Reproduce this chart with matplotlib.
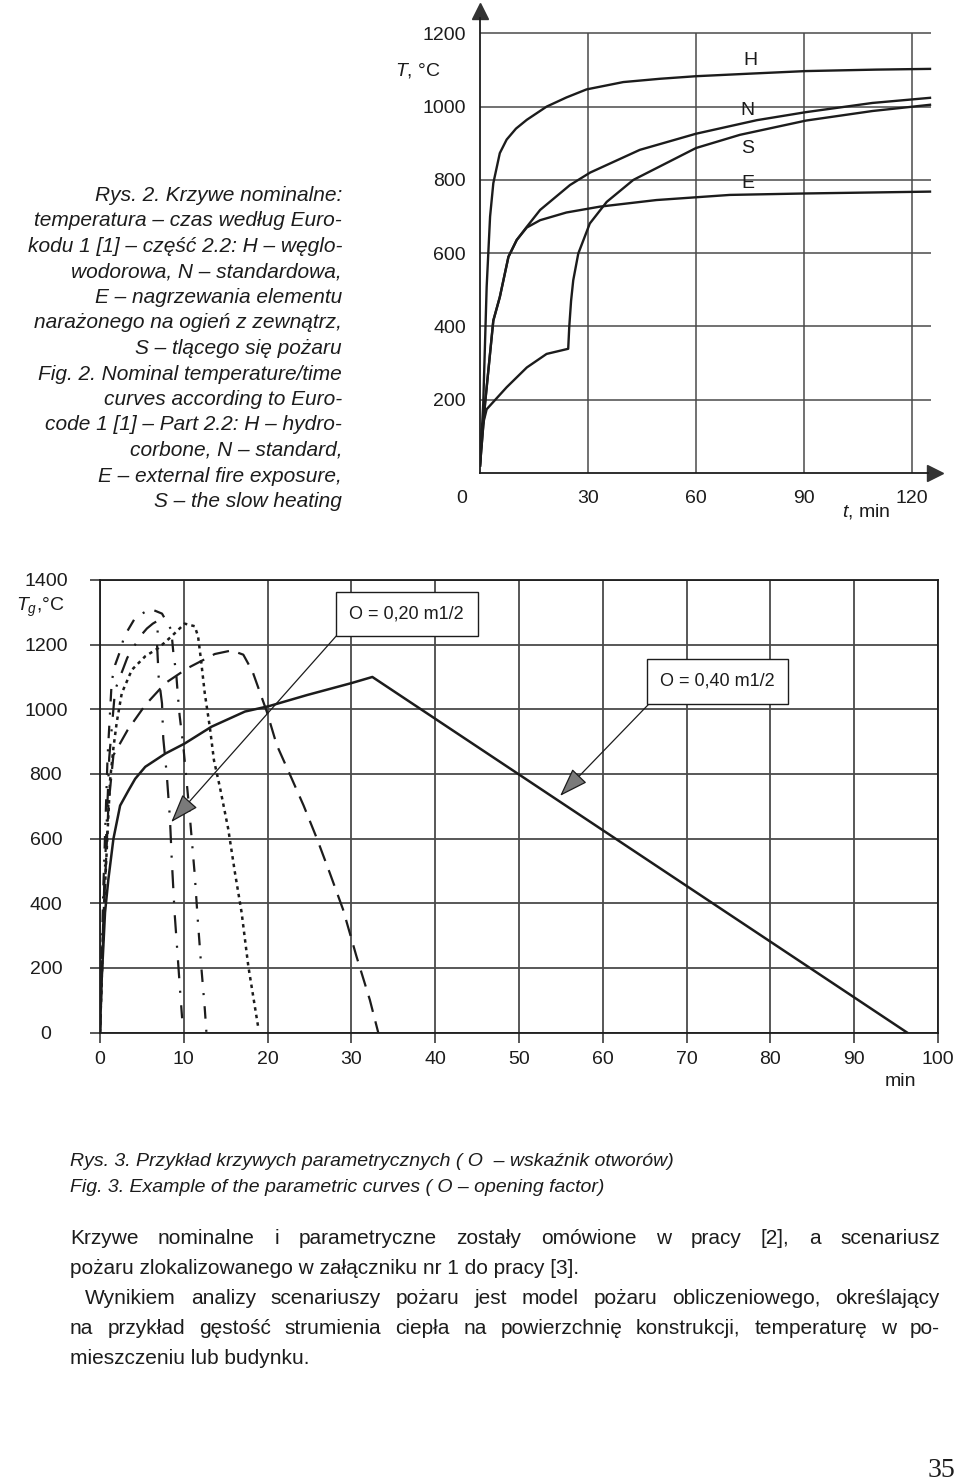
import matplotlib
matplotlib.use("Agg")
import matplotlib.pyplot as plt
from matplotlib.transforms import ScaledTranslation

plt.rcParams['font.family'] = ['Liberation Sans', 'DejaVu Sans']
plt.rcParams['mathtext.fontset'] = 'custom'
plt.rcParams['mathtext.it'] = 'Liberation Sans:italic'
plt.rcParams['mathtext.rm'] = 'Liberation Sans'
plt.rcParams['lines.scale_dashes'] = False

INK = '#1c1c1c'
GRID = '#4a4a4a'

# --- Fig. 2: nominal temperature/time curves (t in min, T in degC) ---
H_t = [0, 0.9, 1.85, 2.8, 3.7, 5.5, 7.4, 10, 13, 18.5, 24, 29.6, 39.8, 50, 60, 75, 90.5, 110, 125]
H_T = [20, 189, 508, 700, 791, 873, 910, 940, 964, 1000, 1025, 1047, 1067, 1076, 1083, 1090, 1097, 1101, 1103]

N_t = [0, 1.4, 3.7, 5.5, 7.9, 10.2, 13, 16.7, 25, 30.6, 44.4, 60, 76.9, 90.6, 109, 125]
N_T = [20, 189, 416, 480, 590, 636, 672, 718, 786, 820, 882, 926, 963, 985, 1010, 1024]

S_t = [0, 0.5, 1.85, 7.4, 13, 18.5, 24.5, 24.8, 25.3, 25.9, 27.3, 30.5, 35.2, 42.6, 60, 72.2, 90.6, 109, 125]
S_T = [20, 120, 174, 234, 288, 325, 339, 400, 470, 526, 599, 681, 740, 800, 887, 923, 962, 988, 1005]

E_t = [0, 1.4, 3.7, 5.5, 7.9, 10.2, 13, 16.7, 24, 33.3, 49, 69.4, 90.6, 125]
E_T = [20, 189, 416, 480, 590, 636, 670, 690, 711, 727, 745, 759, 763, 768]

top_xticks = [0, 30, 60, 90, 120]
top_yticks = [200, 400, 600, 800, 1000, 1200]
curve_names = ['H', 'N', 'S', 'E']
name_pos = [(75, 1127), (74.4, 990), (74.4, 886), (74.4, 791)]

# --- Fig. 3: parametric curves ---
solid_t = [0, 0.2, 0.6, 1.0, 1.6, 2.4, 3.4, 4.2, 5.4, 7.8, 10.1, 13.3, 17.3, 20.2, 24.7, 30, 32.5, 96.3]
solid_T = [0, 163, 371, 474, 599, 702, 749, 785, 822, 863, 894, 946, 993, 1010, 1044, 1081, 1100, 0]

dash_t = [0, 0.5, 1.0, 1.6, 3.3, 5.4, 7.8, 10.5, 13.7, 15.7, 17.1, 18.2, 19.9, 21.1, 22.7, 24.3, 25.9, 27.4, 29.0, 30.6, 32.2, 33.2]
dash_T = [0, 400, 700, 858, 936, 1013, 1081, 1128, 1171, 1182, 1169, 1117, 993, 889, 796, 702, 599, 495, 381, 236, 101, 0]

dot_t = [0, 0.5, 1.2, 1.6, 2.0, 2.6, 3.8, 5.4, 7.0, 8.55, 10.1, 11.3, 11.7, 12.05, 12.5, 13.1, 13.6, 14.3, 15.3, 16.1, 16.9, 17.7, 18.9]
dot_T = [0, 400, 780, 880, 960, 1050, 1122, 1164, 1190, 1226, 1265, 1257, 1226, 1153, 1050, 946, 842, 760, 630, 495, 371, 205, 13]

dd1_t = [0, 0.4, 0.9, 1.4, 1.8, 2.4, 2.9, 4.2, 6.0, 7.4, 8.5, 8.75, 9.1, 9.3, 9.5, 9.95, 10.65, 11.3, 11.65, 12.05, 12.5, 12.7]
dd1_T = [0, 450, 850, 1087, 1137, 1180, 1226, 1283, 1311, 1296, 1246, 1176, 1109, 1040, 981, 884, 690, 490, 355, 215, 75, 0]

dd2_t = [0, 0.5, 1.1, 1.8, 2.8, 3.25, 4.8, 5.6, 6.3, 6.95, 6.8, 7.0, 7.4, 7.55, 7.96, 8.35, 8.55, 8.9, 9.3, 9.55, 9.8]
dd2_T = [0, 450, 850, 1060, 1128, 1159, 1226, 1250, 1265, 1275, 1205, 1100, 1018, 910, 800, 661, 542, 371, 225, 132, 44]

bot_xticks = list(range(0, 101, 10))
bot_yticks = list(range(0, 1401, 200))

box_labels = ['O = 0,20 m1/2', 'O = 0,40 m1/2']
box_centers = [(36.6, 1295), (73.7, 1086)]
arrow_tails = [(28.2, 1227), (65.6, 1019)]
arrow_tips = [(8.5, 651), (54.9, 732)]

caption2 = [
    "Rys. 2. Krzywe nominalne:",
    "temperatura – czas według Euro-",
    "kodu 1 [1] – część 2.2: H – węglo-",
    "wodorowa, N – standardowa,",
    "E – nagrzewania elementu",
    "narażonego na ogień z zewnątrz,",
    "S – tlącego się pożaru",
    "Fig. 2. Nominal temperature/time",
    "curves according to Euro-",
    "code 1 [1] – Part 2.2: H – hydro-",
    "corbone, N – standard,",
    "E – external fire exposure,",
    "S – the slow heating",
]
caption3 = [
    "Rys. 3. Przykład krzywych parametrycznych ( O  – wskaźnik otworów)",
    "Fig. 3. Example of the parametric curves ( O – opening factor)",
]
body = [
    ("Krzywe nominalne i parametryczne zostały omówione w pracy [2], a scenariusz", 70, True),
    ("pożaru zlokalizowanego w załączniku nr 1 do pracy [3].", 70, False),
    ("Wynikiem analizy scenariuszy pożaru jest model pożaru obliczeniowego, określający", 85, True),
    ("na przykład gęstość strumienia ciepła na powierzchnię konstrukcji, temperaturę w po-", 70, True),
    ("mieszczeniu lub budynku.", 70, False),
]

W, HP = 960, 1483
fig = plt.figure(figsize=(W / 100, HP / 100), dpi=100)


def fx(x):
    return x / W


def fy(y):
    return 1 - y / HP


# --- top chart ---
ax1 = fig.add_axes([fx(480), fy(473), 464.4 / W, 470.8 / HP])
ax1.set_xlim(0, 129)
ax1.set_ylim(0, 1285)
for s in ['top', 'right']:
    ax1.spines[s].set_visible(False)
ax1.spines['left'].set_bounds(0, 1241)
ax1.spines['bottom'].set_bounds(0, 124.4)
for s in ['left', 'bottom']:
    ax1.spines[s].set_color(INK)
    ax1.spines[s].set_linewidth(1.3)
ax1.hlines(top_yticks, 0, 125.3, color=GRID, lw=1.1, zorder=1)
ax1.vlines(top_xticks[1:], 0, 1200, color=GRID, lw=1.1, zorder=1)
# axis arrow heads
ax1.plot(0, 1262, marker='^', ms=11, color='#333333', clip_on=False)
ax1.plot(126.5, 0, marker='>', ms=11, color='#333333', clip_on=False)

for t, T in [(H_t, H_T), (N_t, N_T), (S_t, S_T), (E_t, E_T)]:
    ax1.plot(t, T, color=INK, lw=1.7, zorder=3)
for name, (t, T) in zip(curve_names, name_pos):
    ax1.text(t, T, name, fontsize=14, ha='center', va='center', color=INK)

ax1.set_xticks(top_xticks)
ax1.set_yticks(top_yticks)
ax1.tick_params(length=0, labelsize=14, colors=INK)
ax1.tick_params(axis='y', pad=10)
ax1.tick_params(axis='x', pad=12)
lbl0 = ax1.get_xticklabels()[0]
lbl0.set_transform(lbl0.get_transform() + ScaledTranslation(-0.18, 0, fig.dpi_scale_trans))
fig.text(fx(418), fy(70), '$T$, °C', fontsize=14, ha='center', va='center', color=INK)
fig.text(fx(866), fy(512), '$t$, min', fontsize=14, ha='center', va='center', color=INK)

for i, line in enumerate(caption2):
    fig.text(fx(342), fy(201 + 25.5 * i), line, fontsize=15, style='italic',
             ha='right', va='baseline', color=INK)

# --- bottom chart ---
ax2 = fig.add_axes([fx(100), fy(1032.5), 838 / W, 452.5 / HP])
ax2.set_xlim(0, 100)
ax2.set_ylim(0, 1400)
ax2.set_xticks(bot_xticks)
ax2.set_yticks(bot_yticks)
ax2.grid(True, color=GRID, lw=1.3)
ax2.set_axisbelow(True)
for s in ax2.spines.values():
    s.set_color(INK)
    s.set_linewidth(1.3)
ax2.tick_params(direction='out', length=7, width=1.3, color=GRID, labelsize=14, labelcolor=INK)
ax2.tick_params(axis='y', pad=32)
ax2.tick_params(axis='x', pad=6)
for lbl in ax2.get_yticklabels():
    lbl.set_ha('center')

ax2.plot(solid_t, solid_T, color=INK, lw=1.8, zorder=3)
ax2.plot(dash_t, dash_T, color=INK, lw=1.6, dashes=(12, 7), zorder=3)
ax2.plot(dot_t, dot_T, color=INK, lw=1.8, dashes=(2.5, 3), zorder=3)
ax2.plot(dd1_t, dd1_T, color=INK, lw=1.6, dashes=(9, 8, 1.5, 8), zorder=3)
ax2.plot(dd2_t, dd2_T, color=INK, lw=1.6, dashes=(13, 9, 1.5, 9), zorder=3)

for label, c, tail, tip in zip(box_labels, box_centers, arrow_tails, arrow_tips):
    ax2.annotate('', xy=tip, xytext=tail,
                 arrowprops=dict(arrowstyle='-|>,head_length=1.3,head_width=0.45',
                                 lw=0.9, color=INK, fc='#7a7a7a',
                                 shrinkA=0, shrinkB=0, mutation_scale=14), zorder=5)
    ax2.text(c[0], c[1], label, fontsize=13, ha='center', va='center', color=INK, zorder=6,
             bbox=dict(boxstyle='square,pad=0.75', fc='white', ec=INK, lw=1.0))

fig.text(fx(40), fy(607), '$T_g$,°C', fontsize=14, ha='center', va='center', color=INK)
fig.text(fx(900), fy(1082), 'min', fontsize=14, ha='center', va='center', color=INK)

# --- captions and body text ---
for i, line in enumerate(caption3):
    fig.text(fx(70), fy(1166 + 26 * i), line, fontsize=14, style='italic',
             ha='left', va='baseline', color=INK)

BODY_SIZE = 15
renderer = fig.canvas.get_renderer()
for i, (line, x0, justify) in enumerate(body):
    y = fy(1244 + 30 * i)
    if not justify:
        fig.text(fx(x0), y, line, fontsize=BODY_SIZE, va='baseline', color=INK)
        continue
    words = line.split()
    texts = [fig.text(0, y, w, fontsize=BODY_SIZE, va='baseline', color=INK) for w in words]
    widths = [t.get_window_extent(renderer).width for t in texts]
    gap = max((940 - x0 - sum(widths)) / (len(words) - 1), 3)
    x = x0
    for t, w in zip(texts, widths):
        t.set_x(fx(x))
        x += w + gap

fig.text(fx(955), fy(1477), '35', fontsize=20, family='Liberation Serif',
         ha='right', va='baseline', color=INK)

fig.savefig('out.png', dpi=100, facecolor='white')
